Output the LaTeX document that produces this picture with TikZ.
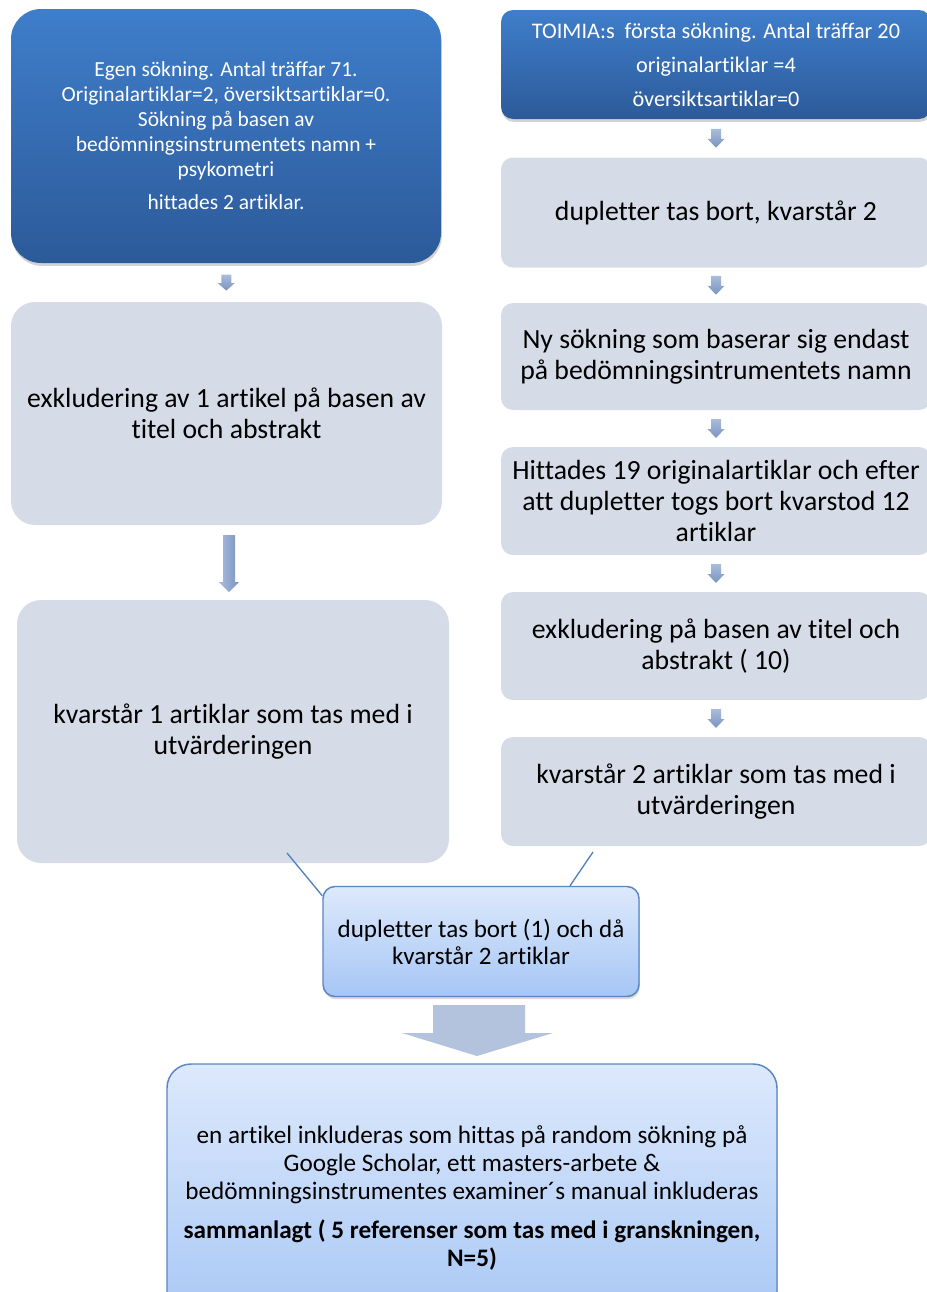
\documentclass[tikz,border=0pt]{standalone}
\usepackage{fontspec}
\setmainfont{Carlito}[Ligatures={NoCommon}]
\usetikzlibrary{shadows,calc}
\definecolor{bluetop}{HTML}{3F7ECB}
\definecolor{bluebot}{HTML}{2C5A99}
\definecolor{graybox}{HTML}{D5DCE8}
\definecolor{midtop}{HTML}{DDE9FC}
\definecolor{midbot}{HTML}{A6C6F5}
\definecolor{midline}{HTML}{5A85C0}
\definecolor{arrtop}{HTML}{A9BCDC}
\definecolor{arrbot}{HTML}{7B93C0}
\definecolor{bigarr}{HTML}{B3C3DE}
\definecolor{conn}{HTML}{4F81BD}
\tikzset{
  bluebox/.style={rounded corners=22.5pt, top color=bluetop, bottom color=bluebot, text=white, align=center, inner sep=0pt,
    drop shadow={opacity=0.35, shadow xshift=0.6pt, shadow yshift=-2.2pt}},
  graystep/.style={rounded corners=18pt, fill=graybox, align=center, inner sep=0pt,
    font=\fontsize{20.8}{23.25}\selectfont},
  midbox/.style={rounded corners=9pt, top color=midtop, bottom color=midbot, draw=midline, line width=1.1pt, align=center, inner sep=0pt,
    drop shadow={opacity=0.3, shadow xshift=0.6pt, shadow yshift=-2pt}},
  smallarr/.style={top color=arrtop, bottom color=arrbot, draw=none},
  connline/.style={draw=conn, line width=1pt}
}
\begin{document}
\begin{tikzpicture}[x=0.75pt,y=-0.75pt]
\useasboundingbox (0,0) rectangle (927,1292);
% left column
\node[bluebox, minimum width=322.5pt, minimum height=190.5pt, font=\fontsize{16.1}{18.75}\selectfont] (L1) at (226,136)
  {Egen sökning. Antal träffar 71.\\Originalartiklar=2, översiktsartiklar=0.\\Sökning på basen av\\bedömningsinstrumentets namn +\\psykometri\\[6pt]hittades 2 artiklar.};
\node[graystep, minimum width=323.25pt, minimum height=167.25pt] (L2) at (226.5,413.5)
  {exkludering av 1 artikel på basen av\\titel och abstrakt};
\node[graystep, minimum width=324pt, minimum height=197.25pt] (L3) at (233,731.5)
  {kvarstår 1 artiklar som tas med i\\utvärderingen};
% right column
\node[bluebox, rounded corners=9pt, minimum width=322.5pt, minimum height=81.75pt, font=\fontsize{16.7}{25.5}\selectfont] (R1) at (716,64.5)
  {TOIMIA:s\ \ första sökning. Antal träffar 20\\originalartiklar =4\\översiktsartiklar=0};
\node[graystep, rounded corners=9pt, minimum width=322.5pt, minimum height=82.5pt] (R2) at (716,212.5)
  {dupletter tas bort, kvarstår 2};
\node[graystep, rounded corners=9pt, minimum width=322.5pt, minimum height=80.25pt] (R3) at (716,356.5)
  {Ny sökning som baserar sig endast\\på bedömningsintrumentets namn};
\node[graystep, rounded corners=9pt, minimum width=322.5pt, minimum height=81pt] (R4) at (716,501)
  {Hittades 19 originalartiklar och efter\\att dupletter togs bort kvarstod 12\\artiklar};
\node[graystep, rounded corners=9pt, minimum width=322.5pt, minimum height=81pt] (R5) at (716,646)
  {exkludering på basen av titel och\\abstrakt ( 10)};
\node[graystep, rounded corners=9pt, minimum width=322.5pt, minimum height=81.75pt] (R6) at (716,791.5)
  {kvarstår 2 artiklar som tas med i\\utvärderingen};
% merge box
\node[midbox, minimum width=237pt, minimum height=82.5pt, font=\fontsize{18.8}{20.25}\selectfont] (M) at (481,941.5)
  {dupletter tas bort (1) och då\\kvarstår 2 artiklar};
% bottom box
\node[midbox, rounded corners=18pt, minimum width=457.5pt, minimum height=201pt, font=\fontsize{18.9}{21}\selectfont] (B) at (472,1198)
  {en artikel inkluderas som hittas på random sökning på\\Google Scholar, ett masters-arbete \&\\bedömningsinstrumentes examiner´s manual inkluderas\\[8pt]\textbf{sammanlagt ( 5 referenser som tas med i granskningen,}\\\textbf{N=5)}};
% small arrows (right column)
\foreach \a/\b in {R1/R2,R2/R3,R3/R4,R4/R5,R5/R6}{
  \path let \p1=($(\a.south)!0.5!(\b.north)$) in
    [smallarr] (\x1-3.75pt,\y1+7.1pt) -- (\x1+3.75pt,\y1+7.1pt) -- (\x1+3.75pt,\y1-0.4pt)
      -- (\x1+6.4pt,\y1-0.4pt) -- (\x1,\y1-7.1pt) -- (\x1-6.4pt,\y1-0.4pt) -- (\x1-3.75pt,\y1-0.4pt) -- cycle;
}
% small arrow L1 -> L2
\path let \p1=($(L1.south)!0.5!(L2.north)$) in
  [smallarr] (\x1-3.75pt,\y1+6pt) -- (\x1+3.75pt,\y1+6pt) -- (\x1+3.75pt,\y1-0.4pt)
    -- (\x1+6.4pt,\y1-0.4pt) -- (\x1,\y1-6pt) -- (\x1-6.4pt,\y1-0.4pt) -- (\x1-3.75pt,\y1-0.4pt) -- cycle;
% long arrow L2 -> L3
\path[smallarr, left color=arrtop, right color=arrbot] (223,535) -- (235,535) -- (235,582) -- (239,582) -- (229,592) -- (219,582) -- (223,582) -- cycle;
% connectors into merge box
\coordinate (cl) at (287,853);
\coordinate (cr) at (593,852);
\draw[connline] (cl) -- ($(M.north west)+(0,-7.5pt)$);
\draw[connline] (cr) -- (M.north -| 570,0);
% big arrow M -> B
\path[fill=bigarr] (433,1005) -- (525,1005) -- (525,1033) -- (553,1033) -- (477,1056) -- (402,1033) -- (433,1033) -- cycle;
\end{tikzpicture}
\end{document}
